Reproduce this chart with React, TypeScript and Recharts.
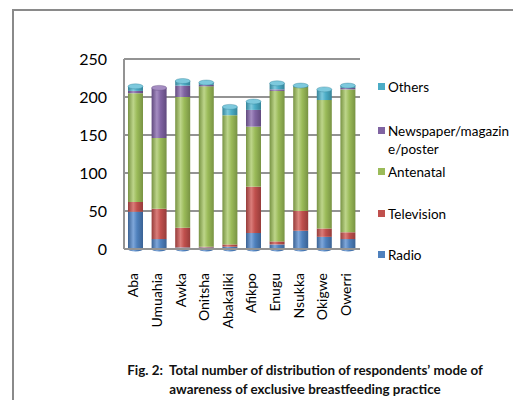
import { BarChart, Bar, XAxis, YAxis, CartesianGrid } from 'recharts';

const cities = ['Aba', 'Umuahia', 'Awka', 'Onitsha', 'Abakaliki', 'Afikpo', 'Enugu', 'Nsukka', 'Okigwe', 'Owerri'];
const radio = [49, 13, 2, 2, 3, 21, 6, 24, 16, 13];
const television = [13, 40, 26, 1, 3, 61, 4, 26, 11, 9];
const antenatal = [143, 93, 172, 211, 170, 79, 198, 163, 169, 188];
const newspaper = [3, 66, 15, 2, 0, 22, 2, 0, 0, 2];
const others = [6, 0, 6, 3, 11, 11, 8, 2, 14, 3];
const yTicks = [0, 50, 100, 150, 200, 250];

const series = [
  { key: 'radio', name: 'Radio', color: '#4F81BD', light: '#7FA7DA', dark: '#3A6294' },
  { key: 'television', name: 'Television', color: '#C0504D', light: '#DA7D7A', dark: '#963C3A' },
  { key: 'antenatal', name: 'Antenatal', color: '#9BBB59', light: '#BDD58A', dark: '#789343' },
  { key: 'newspaper', name: 'Newspaper/magazine/poster', color: '#8064A2', light: '#A58DC2', dark: '#614A7E' },
  { key: 'others', name: 'Others', color: '#4BACC6', light: '#7DC9DD', dark: '#358499' },
];

const data = cities.map((city, i) => ({
  city,
  radio: radio[i],
  television: television[i],
  antenatal: antenatal[i],
  newspaper: newspaper[i],
  others: others[i],
}));

const font = 'Lato, "Open Sans", sans-serif';

function makeShape(idx: number) {
  const s = series[idx];
  return (props: any) => {
    const { x, y, width, height, payload } = props;
    if (!width || height == null || height <= 0) return <g />;
    const isTop = series.slice(idx + 1).every((o) => !payload[o.key]);
    const isBottom = idx === 0;
    const rx = width / 2;
    const ry = 2.5;
    return (
      <g>
        <path
          d={`M${x},${y} L${x + width},${y} L${x + width},${y + height} ${
            isBottom ? `A${rx},${ry} 0 0 1 ${x},${y + height}` : `L${x},${y + height}`
          } Z`}
          fill={`url(#grad-${s.key})`}
        />
        {isTop && <ellipse cx={x + rx} cy={y} rx={rx} ry={ry} fill={s.light} stroke={s.dark} strokeWidth={0.4} />}
      </g>
    );
  };
}

const legendTops = [78, 122, 163, 205, 246];

function LegendBox() {
  const items = [...series].reverse();
  return (
    <div style={{ position: 'absolute', left: 378, top: 0, width: 140, height: 300, fontFamily: font, fontSize: 13.5, color: '#000' }}>
      {items.map((s, i) => {
        const lines = s.name.length > 17 ? [s.name.slice(0, 17), s.name.slice(17)] : [s.name];
        return (
          <div key={s.key} style={{ position: 'absolute', left: 0, top: legendTops[i], display: 'flex', alignItems: 'flex-start' }}>
            <span style={{ display: 'inline-block', width: 7, height: 7, background: s.color, marginTop: 5, marginRight: 3 }} />
            <span style={{ lineHeight: '18px' }}>
              {lines.map((l) => (
                <div key={l}>{l}</div>
              ))}
            </span>
          </div>
        );
      })}
    </div>
  );
}

export default function App() {
  return (
    <div style={{ position: 'relative', width: 521, height: 408, margin: -8, background: '#fff', overflow: 'hidden' }}>
      <div
        style={{
          position: 'absolute',
          left: 12,
          top: 9,
          width: 520,
          height: 410,
          borderLeft: '2px solid #8a8a8a',
          borderTop: '2px solid #8a8a8a',
        }}
      />
      <div style={{ position: 'absolute', left: 0, top: 0 }}>
        <BarChart width={521} height={408} data={data} margin={{ top: 59, right: 161, bottom: 59, left: 0 }} barSize={15}>
          <defs>
            {series.map((s) => (
              <linearGradient key={s.key} id={`grad-${s.key}`} x1="0" y1="0" x2="1" y2="0">
                <stop offset="0%" stopColor={s.dark} />
                <stop offset="35%" stopColor={s.light} />
                <stop offset="60%" stopColor={s.color} />
                <stop offset="100%" stopColor={s.dark} />
              </linearGradient>
            ))}
          </defs>
          <CartesianGrid vertical={false} stroke="#939393" strokeWidth={2} />
          <XAxis
            dataKey="city"
            interval={0}
            axisLine={{ stroke: '#939393', strokeWidth: 2 }}
            tickLine={false}
            tickSize={0}
            height={100}
            tick={(props: any) => {
              const { x, y, payload } = props;
              return (
                <text
                  x={x - 3}
                  y={y + 22}
                  transform={`rotate(-90 ${x - 3} ${y + 22})`}
                  textAnchor="end"
                  dominantBaseline="central"
                  fontFamily={font}
                  fontSize={14}
                  fill="#000"
                >
                  {payload.value}
                </text>
              );
            }}
          />
          <YAxis
            width={124}
            domain={[0, 250]}
            ticks={yTicks}
            interval={0}
            axisLine={{ stroke: '#939393', strokeWidth: 2 }}
            tickLine={false}
            tickSize={0}
            tickMargin={17}
            tick={{ fontFamily: font, fontSize: 16, fill: '#000' }}
          />
          {series.map((s, i) => (
            <Bar key={s.key} dataKey={s.key} name={s.name} stackId="a" fill={s.color} shape={makeShape(i)} isAnimationActive={false} />
          ))}
        </BarChart>
      </div>
      <LegendBox />
      <div
        style={{
          position: 'absolute',
          left: 100,
          width: 410,
          top: 361,
          textAlign: 'center',
          fontFamily: font,
          fontWeight: 'bold',
          fontSize: 13.4,
          lineHeight: '19px',
          color: '#111',
        }}
      >
        <div>Fig. 2:&nbsp; Total number of distribution of respondents’ mode of</div>
        <div>awareness of exclusive breastfeeding practice</div>
      </div>
    </div>
  );
}
